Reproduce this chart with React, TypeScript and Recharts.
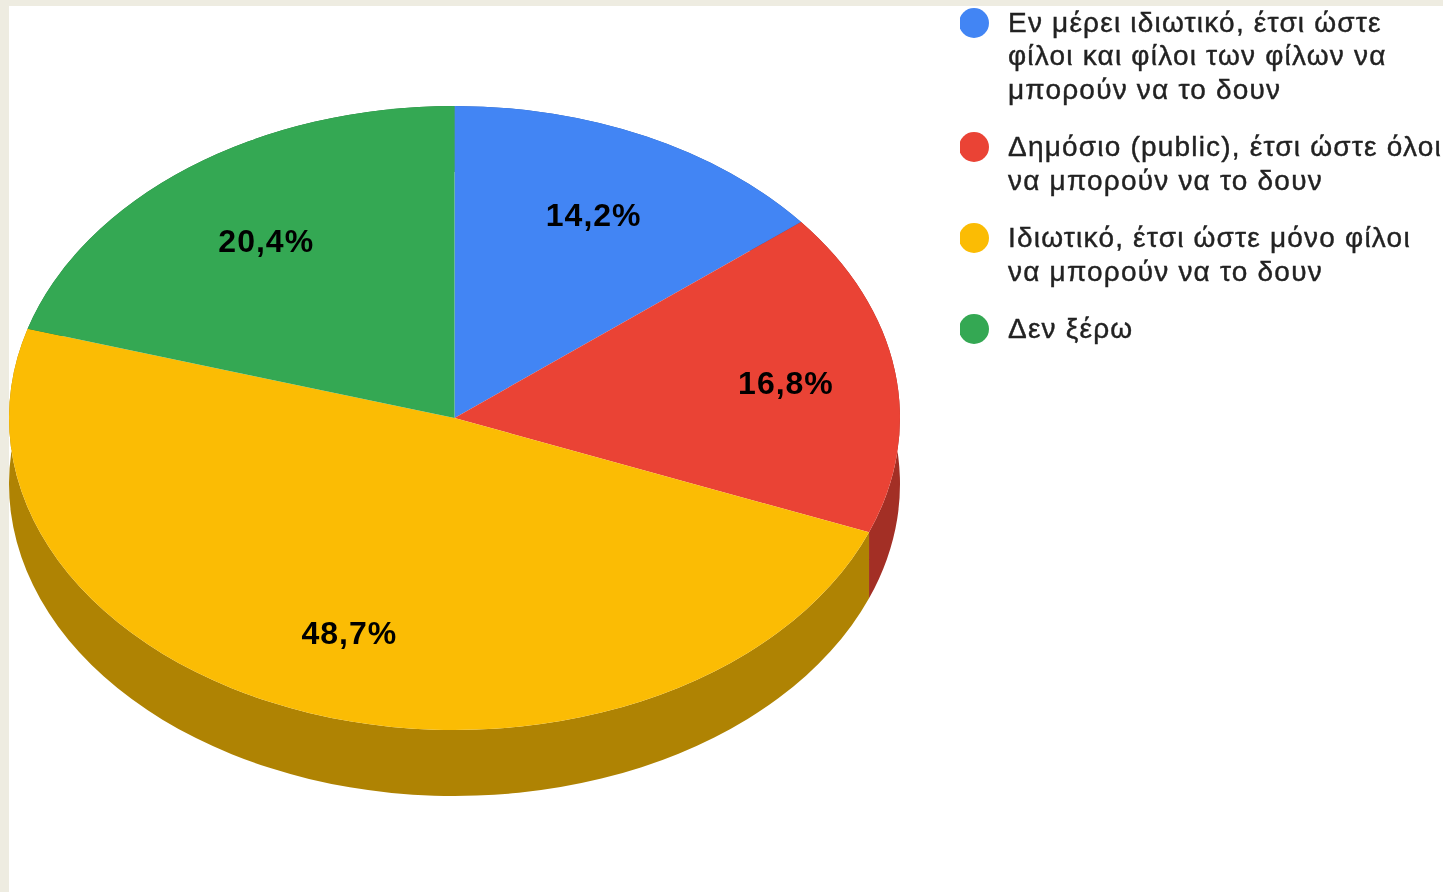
import { PieChart, Pie, Legend } from 'recharts';

const categories = [
  'Εν μέρει ιδιωτικό, έτσι ώστε φίλοι και φίλοι των φίλων να μπορούν να το δουν',
  'Δημόσιο (public), έτσι ώστε όλοι να μπορούν να το δουν',
  'Ιδιωτικό, έτσι ώστε μόνο φίλοι να μπορούν να το δουν',
  'Δεν ξέρω',
];
const shares = [14.2, 16.8, 48.7, 20.4];
const topColors = ['#4285f4', '#ea4335', '#fbbc04', '#34a853'];
const wallColors = ['#2e5daa', '#a32f25', '#af8303', '#247538'];
// small label shifts, the source chart doesn't sit them exactly on the mid angle
const labelNudgeX = [-1, 10, 1, 6];
const labelNudgeY = [3, 0, 0, 6];

const tableData = categories.map((name, i) => ({
  name,
  value: shares[i],
  fill: topColors[i],
  wall: wallColors[i],
}));

const CX = 454.5;
const CY = 418;
const RADIUS = 445.5;
const SQUASH = 312 / 445.5;
const DEPTH = 66;
const RAD = Math.PI / 180;

const px = (cx: number, r: number, a: number) => cx + r * Math.cos(a * RAD);
const py = (cy: number, r: number, a: number) => cy - r * SQUASH * Math.sin(a * RAD);

function TopSlice(props: any) {
  const { cx, cy, outerRadius: r, startAngle, endAngle, fill } = props;
  const large = Math.abs(endAngle - startAngle) > 180 ? 1 : 0;
  const d = `M${cx},${cy} L${px(cx, r, startAngle)},${py(cy, r, startAngle)} A${r},${r * SQUASH} 0 ${large} 1 ${px(cx, r, endAngle)},${py(cy, r, endAngle)} Z`;
  return <path d={d} fill={fill} />;
}

function WallSlice(props: any) {
  const { cx, cy, outerRadius: r, startAngle, endAngle, payload } = props;
  const large = Math.abs(endAngle - startAngle) > 180 ? 1 : 0;
  const ry = r * SQUASH;
  const d = `M${px(cx, r, startAngle)},${py(cy, r, startAngle)} A${r},${ry} 0 ${large} 1 ${px(cx, r, endAngle)},${py(cy, r, endAngle)} L${px(cx, r, endAngle)},${py(cy, r, endAngle) + DEPTH} A${r},${ry} 0 ${large} 0 ${px(cx, r, startAngle)},${py(cy, r, startAngle) + DEPTH} Z`;
  return <path d={d} fill={payload.wall} />;
}

function SliceLabel(props: any) {
  const { cx, cy, outerRadius: r, midAngle, value, index } = props;
  return (
    <text
      x={px(cx, r * 0.73, midAngle) + labelNudgeX[index]}
      y={py(cy, r * 0.73, midAngle) + labelNudgeY[index]}
      fill="#000"
      fontSize={32}
      letterSpacing={1}
      fontWeight="bold"
      fontFamily="Liberation Sans"
      textAnchor="middle"
      dominantBaseline="central"
    >
      {value.toFixed(1).replace('.', ',') + '%'}
    </text>
  );
}

function LegendList(props: any) {
  const { payload } = props;
  // both pies report their slices, keep one row per category
  const rows = categories.map((name) => (payload || []).find((p: any) => p.value === name)).filter(Boolean);
  return (
    <div style={{ fontFamily: 'Liberation Sans', fontSize: 28, letterSpacing: 1.2, lineHeight: '33.5px', color: '#222', WebkitTextStroke: '0.4px #222' }}>
      {rows.map((entry: any) => (
        <div key={entry.value} style={{ display: 'flex', marginBottom: 24 }}>
          <svg width={48} height={33} style={{ flex: 'none' }}>
            <circle cx={14} cy={17} r={15} fill={entry.color} />
          </svg>
          <div style={{ width: 435 }}>{entry.value}</div>
        </div>
      ))}
    </div>
  );
}

export default function App() {
  return (
    <div style={{ position: 'absolute', left: 0, top: 0, width: 1443, height: 892, background: '#eeece1', overflow: 'hidden' }}>
      <div style={{ position: 'absolute', left: 9, top: 6, width: 1434, height: 886, background: '#fff' }} />
      <div style={{ position: 'absolute', left: 0, top: 0, filter: 'blur(0.6px)' }}>
        <PieChart width={1443} height={892} margin={{ top: 0, right: 0, bottom: 0, left: 0 }}>
          <Pie
            data={tableData}
            dataKey="value"
            nameKey="name"
            cx={CX}
            cy={CY}
            outerRadius={RADIUS}
            startAngle={90}
            endAngle={-270}
            stroke="none"
            legendType="none"
            shape={WallSlice}
            isAnimationActive={false}
          />
          <Pie
            data={tableData}
            dataKey="value"
            nameKey="name"
            cx={CX}
            cy={CY}
            outerRadius={RADIUS}
            startAngle={90}
            endAngle={-270}
            stroke="none"
            shape={TopSlice}
            label={SliceLabel}
            labelLine={false}
            isAnimationActive={false}
          />
          <Legend
            layout="vertical"
            align="right"
            verticalAlign="top"
            content={LegendList}
            wrapperStyle={{ left: 960, top: 5.5, width: 483, right: 'auto' }}
          />
        </PieChart>
      </div>
    </div>
  );
}
